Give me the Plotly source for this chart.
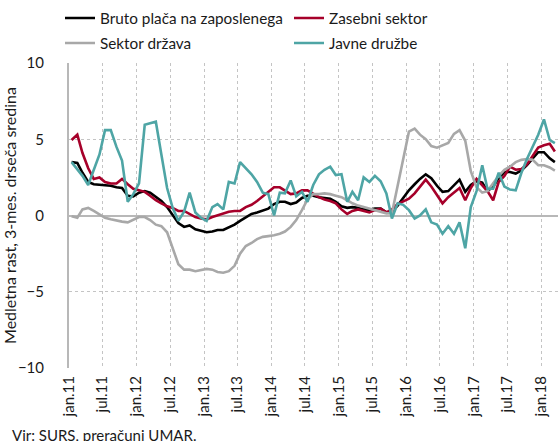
import plotly.graph_objects as go
import pandas as pd

# monthly, Jan 2011 - Mar 2018 (3-month moving average, y/y growth, %)
months = pd.date_range("2011-01-01", "2018-03-01", freq="MS")

bruto = [3.5, 3.45, 2.8, 2.2, 2.05, 2.0, 2.0, 1.95, 1.85, 1.8,
         1.3, 1.25, 1.5, 1.6, 1.5, 1.2, 0.95, 0.55, 0.05, -0.5,
         -0.75, -0.65, -0.9, -1.0, -1.1, -1.05, -0.95, -0.95, -0.8, -0.6,
         -0.35, -0.1, 0.1, 0.2, 0.35, 0.45, 0.75, 0.9, 0.9, 0.75,
         0.85, 1.15, 1.3, 1.3, 1.2, 1.15, 1.1, 0.9, 0.6, 0.5,
         0.55, 0.5, 0.4, 0.37, 0.45, 0.45, 0.2, 0.25, 0.65, 1.15,
         1.65, 2.05, 2.4, 2.7, 2.45, 1.95, 1.55, 1.6, 2.0, 2.35,
         1.55, 2.0, 2.25, 2.15, 1.6, 1.9, 2.45, 2.85, 2.85, 2.75,
         2.95, 3.3, 3.75, 4.15, 4.15, 3.75, 3.5]

zasebni = [4.95, 5.3, 4.1, 3.1, 2.4, 2.5, 2.2, 2.1, 2.1, 2.4,
           2.05, 1.75, 1.65, 1.55, 1.3, 1.0, 0.8, 0.6, 0.5, 0.3,
           0.3, 0.1, -0.1, -0.2, -0.25, -0.1, 0.0, 0.1, 0.25, 0.3,
           0.3, 0.55, 0.7, 0.95, 1.25, 1.5, 1.85, 1.85, 1.65, 1.4,
           1.45, 1.65, 1.65, 1.4, 1.2, 1.05, 0.95, 0.8, 0.4, 0.1,
           0.3, 0.4, 0.3, 0.2, 0.35, 0.45, 0.2, 0.4, 0.75, 0.9,
           1.1, 1.45, 1.9, 2.35, 1.9, 1.3, 0.8, 1.2, 1.5, 1.8,
           1.0, 1.8, 2.4, 2.0, 1.6, 1.0, 2.2, 2.6, 3.2, 3.0,
           3.05, 3.35, 3.95, 4.45, 4.6, 4.7, 4.2]

drzava = [-0.05, -0.15, 0.4, 0.5, 0.3, 0.05, -0.15, -0.25, -0.35, -0.4,
          -0.45, -0.3, -0.1, -0.1, -0.3, -0.6, -0.7, -1.1, -2.2, -3.2,
          -3.55, -3.55, -3.65, -3.6, -3.5, -3.55, -3.7, -3.75, -3.65, -3.3,
          -2.5, -2.0, -1.8, -1.55, -1.4, -1.35, -1.3, -1.2, -1.05, -0.75,
          -0.3, 0.35, 1.05, 1.4, 1.4, 1.45, 1.4, 1.3, 1.2, 1.0,
          0.8, 0.65, 0.55, 0.43, 0.3, 0.22, 0.14, 0.15, 1.9, 3.8,
          5.5, 5.7, 5.3, 5.0, 4.55, 4.45, 4.6, 4.75, 5.35, 5.6,
          4.9, 2.9, 1.85, 1.5, 1.6, 2.1, 2.6, 3.0, 3.2, 3.5,
          3.65, 3.7, 3.65, 3.3, 3.3, 3.15, 2.95]

javne = [3.5, 3.05, 2.6, 2.0, 3.0, 4.0, 5.6, 5.6, 4.5, 3.6,
         0.9, 1.4, 2.1, 5.95, 6.05, 6.15, 4.0, 1.8, 0.5, -0.35,
         0.25, 1.5, 0.2, -0.15, -0.35, 0.55, 0.75, 0.4, 2.2, 2.1,
         3.5, 3.1, 2.7, 2.2, 1.5, 1.4, 0.0, 1.5, 1.45, 2.3,
         1.25, 1.55, 0.9, 2.0, 2.7, 3.0, 3.2, 2.65, 2.7, 0.9,
         1.55, 1.0, 2.5, 2.2, 2.6, 2.25, 1.45, -0.2, 0.8, 0.7,
         0.35, -0.2, 0.0, 0.4, -0.45, -0.6, -1.2, -0.7, -1.2, -0.45,
         -2.15, 0.55, 1.6, 3.3, 1.75, 1.75, 2.8, 1.9, 1.7, 1.65,
         2.8, 3.7, 4.5, 5.3, 6.3, 4.95, 4.75]

series_names = ["Bruto plača na zaposlenega", "Zasebni sektor", "Sektor država", "Javne družbe"]
series_colors = ["#000000", "#a6002a", "#a8a8a8", "#4ea5a5"]
series_legends = ["legend", "legend", "legend2", "legend2"]

tick_dates = pd.date_range("2011-01-01", "2018-01-01", freq="6MS")
tick_labels = ["jan.11", "jul.11", "jan.12", "jul.12", "jan.13", "jul.13", "jan.14",
               "jul.14", "jan.15", "jul.15", "jan.16", "jul.16", "jan.17", "jul.17", "jan.18"]

x_mid = months + pd.Timedelta(days=14)

FONT = "Lato"
FS = 15
TXT = "#1a1a1a"
fig = go.Figure()
for name, vals, col, lg in zip(series_names, [bruto, zasebni, drzava, javne],
                               series_colors, series_legends):
    fig.add_trace(go.Scatter(x=x_mid, y=vals, mode="lines", name=name, legend=lg,
                             line=dict(color=col, width=2.6)))

legend_common = dict(orientation="h", xref="container", yref="container",
                     xanchor="left", yanchor="middle",
                     entrywidth=184, entrywidthmode="pixels",
                     font=dict(family=FONT, size=15.3, color=TXT),
                     bgcolor="rgba(0,0,0,0)", borderwidth=0, itemwidth=30)

fig.update_layout(
    width=559, height=441,
    margin=dict(l=69, r=1, t=63, b=73, autoexpand=False),
    paper_bgcolor="white", plot_bgcolor="white",
    font=dict(family=FONT, size=FS, color=TXT),
    showlegend=True,
    hovermode=False,
    legend=dict(legend_common, x=60 / 559, y=1 - 18 / 441),
    legend2=dict(legend_common, x=60 / 559, y=1 - 43 / 441),
    xaxis=dict(type="date", range=["2011-01-01", "2018-04-01"], automargin=False,
               tickvals=tick_dates, ticktext=tick_labels, tickangle=-90,
               showgrid=True, gridcolor="#c4c4c4", griddash="dot", gridwidth=1,
               showline=False, zeroline=False, ticks="", ticklabelstandoff=4,
               tickfont=dict(family=FONT, size=FS, color=TXT)),
    yaxis=dict(range=[-10, 10], tickvals=[-10, -5, 0, 5, 10], automargin=False,
               showgrid=True, gridcolor="#c4c4c4", griddash="dot", gridwidth=1,
               zeroline=True, zerolinecolor="#b8b8b8", zerolinewidth=2,
               showline=True, linecolor="#b8b8b8", linewidth=2,
               ticks="", ticklabelstandoff=20,
               tickfont=dict(family=FONT, size=FS, color=TXT),
               title=dict(text="Medletna rast, 3-mes. drseča sredina",
                          font=dict(family=FONT, size=16, color=TXT),
                          standoff=0)),
)

fig.add_annotation(text="Vir: SURS, preračuni UMAR.", xref="paper", yref="paper",
                   x=-59 / 489, y=-(424 - 368) / 305, xanchor="left", yanchor="top",
                   showarrow=False, font=dict(family=FONT, size=FS, color=TXT))

fig.write_html("out.html", config={"displayModeBar": False, "staticPlot": True},
               post_script="document.body.style.margin='0';document.body.style.overflow='hidden';")
